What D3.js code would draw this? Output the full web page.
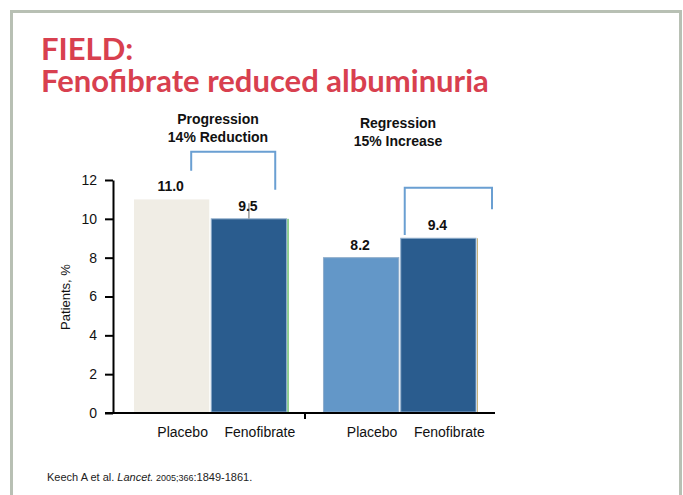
<!DOCTYPE html>
<html lang="en">
<head>
  <meta charset="UTF-8">
  <title>FIELD: Fenofibrate reduced albuminuria</title>
  <script src="https://d3js.org/d3.v7.min.js"></script>
  <style>
    body { margin: 0; background: #fff; }
    svg { display: block; font-family: "Liberation Sans", Arial, sans-serif; }
  </style>
</head>
<body>
  <div id="viz"></div>
  <script>
    const groups = ["Progression", "Regression"];
    const arms = ["Placebo", "Fenofibrate"];
    // bar heights as drawn, and the printed labels
    const progressionHeights = [11, 10];
    const regressionHeights = [8, 9];
    const progressionLabels = ["11.0", "9.5"];
    const regressionLabels = ["8.2", "9.4"];
    const groupTitles = [["Progression", "14% Reduction"], ["Regression", "15% Increase"]];
    const yTicks = [0, 2, 4, 6, 8, 10, 12];

    const data = [
      { group: "Progression", arm: "Placebo", v: progressionHeights[0], label: progressionLabels[0], fill: "#f0ede5" },
      { group: "Progression", arm: "Fenofibrate", v: progressionHeights[1], label: progressionLabels[1], fill: "#2a5c8e" },
      { group: "Regression", arm: "Placebo", v: regressionHeights[0], label: regressionLabels[0], fill: "#6397c8" },
      { group: "Regression", arm: "Fenofibrate", v: regressionHeights[1], label: regressionLabels[1], fill: "#2a5c8e" }
    ];

    const svg = d3.select("#viz").append("svg").attr("width", 683).attr("height", 495);

    // slide frame
    svg.append("path")
      .attr("d", "M11.5,495 V11.5 H680.5 V495")
      .attr("fill", "none")
      .attr("stroke", "#b8c0b4")
      .attr("stroke-width", 3);

    // title, two lines
    svg.selectAll("text.title")
      .data(["FIELD:", "Fenofibrate reduced albuminuria"])
      .enter()
      .append("text")
      .attr("class", "title")
      .attr("x", 41)
      .attr("y", (d, i) => 60 + i * 32)
      .attr("font-family", "Lato, 'Open Sans', sans-serif")
      .attr("font-weight", "bold")
      .attr("font-size", "31px")
      .attr("fill", "#d8404f")
      .text(d => d);

    const y = d3.scaleLinear().domain([0, 12]).range([413, 180]);
    const x0 = d3.scaleBand().domain(groups).range([134, 476]).paddingInner(0.195).paddingOuter(0);
    const x1 = d3.scaleBand().domain(arms).range([0, x0.bandwidth()]).paddingInner(0.026);
    const bx = d => x0(d.group) + x1(d.arm);
    const bw = x1.bandwidth();

    // bars
    svg.selectAll("rect.bar")
      .data(data)
      .enter()
      .append("rect")
      .attr("class", "bar")
      .attr("x", d => bx(d))
      .attr("y", d => y(d.v))
      .attr("width", bw)
      .attr("height", d => y(0) - y(d.v) - 1)
      .attr("fill", d => d.fill)
      .attr("stroke", d => d.fill === "#f0ede5" ? "none" : "#8fadcb")
      .attr("stroke-width", 1);

    // thin edge lines right of the fenofibrate bars
    const fen = data.filter(d => d.arm === "Fenofibrate");
    svg.selectAll("line.edge")
      .data(fen)
      .enter()
      .append("line")
      .attr("x1", d => bx(d) + bw + 1.5)
      .attr("x2", d => bx(d) + bw + 1.5)
      .attr("y1", d => y(d.v))
      .attr("y2", y(0))
      .attr("stroke", (d, i) => i === 0 ? "#2aa02a" : "#c9b27a")
      .attr("stroke-width", 1);

    // small grey tick over 9.5
    svg.append("line")
      .attr("x1", bx(data[1]) + bw / 2).attr("x2", bx(data[1]) + bw / 2)
      .attr("y1", y(10.8)).attr("y2", y(10))
      .attr("stroke", "#9a9a9a").attr("stroke-width", 1.5);

    // value labels
    svg.selectAll("text.value")
      .data(data)
      .enter()
      .append("text")
      .attr("x", d => bx(d) + bw / 2 - 1)
      .attr("y", d => y(d.v) - 8)
      .attr("text-anchor", "middle")
      .attr("font-size", "14px")
      .attr("font-weight", "bold")
      .attr("fill", "#111")
      .text(d => d.label);

    // y axis
    const yAxis = svg.append("g")
      .attr("transform", "translate(113,0)")
      .call(d3.axisLeft(y).tickValues(yTicks).tickSize(8).tickSizeOuter(0).tickPadding(8));
    yAxis.select(".domain").attr("stroke", "#000").attr("stroke-width", 2);
    yAxis.selectAll(".tick line").attr("stroke", "#000").attr("stroke-width", 2);
    yAxis.selectAll(".tick text").attr("font-size", "14px").attr("font-family", "'Liberation Sans', Arial, sans-serif").attr("fill", "#111");

    // x axis line
    svg.append("line")
      .attr("x1", 105).attr("x2", x0.range()[1] + 19)
      .attr("y1", y(0)).attr("y2", y(0))
      .attr("stroke", "#000").attr("stroke-width", 2);
    const midX = (x0("Progression") + x0.bandwidth() + x0("Regression")) / 2;
    svg.append("line")
      .attr("x1", midX).attr("x2", midX)
      .attr("y1", y(0)).attr("y2", y(0) + 6)
      .attr("stroke", "#000").attr("stroke-width", 2);

    // category labels
    svg.selectAll("text.cat")
      .data(data)
      .enter()
      .append("text")
      .attr("x", d => bx(d) + bw / 2 + 11)
      .attr("y", 437)
      .attr("text-anchor", "middle")
      .attr("font-size", "14px")
      .attr("fill", "#111")
      .text(d => d.arm);

    // y label
    svg.append("text")
      .attr("transform", "rotate(-90)")
      .attr("x", -297)
      .attr("y", 70)
      .attr("text-anchor", "middle")
      .attr("font-size", "13px")
      .attr("fill", "#111")
      .text("Patients, %");

    // group annotations
    const titleCx = [218, 398];
    const titleY = [124, 128];
    groups.forEach((g, i) => {
      const t = svg.append("text")
        .attr("text-anchor", "middle")
        .attr("font-size", "14px")
        .attr("font-weight", "bold")
        .attr("fill", "#111");
      t.append("tspan").attr("x", titleCx[i]).attr("y", titleY[i]).text(groupTitles[i][0]);
      t.append("tspan").attr("x", titleCx[i]).attr("y", titleY[i] + 18).text(groupTitles[i][1]);
    });

    // brackets (positions in data units)
    const brackets = [
      { x1: bx(data[0]) + 0.76 * bw, x2: bx(data[1]) + 0.85 * bw, yl: 12.47, yt: 13.45, yr: 11.5 },
      { x1: bx(data[3]) + 4, x2: bx(data[3]) + bw + 16, yl: 9.17, yt: 11.6, yr: 10.5 }
    ];
    svg.selectAll("path.bracket")
      .data(brackets)
      .enter()
      .append("path")
      .attr("d", b => `M${b.x1},${y(b.yl)} V${y(b.yt)} H${b.x2} V${y(b.yr)}`)
      .attr("fill", "none")
      .attr("stroke", "#6a9fd2")
      .attr("stroke-width", 2);

    // citation
    const cite = svg.append("text")
      .attr("x", 47)
      .attr("y", 481)
      .attr("font-size", "11px")
      .attr("fill", "#222");
    cite.append("tspan").text("Keech A et al. ");
    cite.append("tspan").attr("font-style", "italic").text("Lancet.");
    cite.append("tspan").attr("font-size", "9px").text(" 2005;366");
    cite.append("tspan").text(":1849-1861.");
  </script>
</body>
</html>
